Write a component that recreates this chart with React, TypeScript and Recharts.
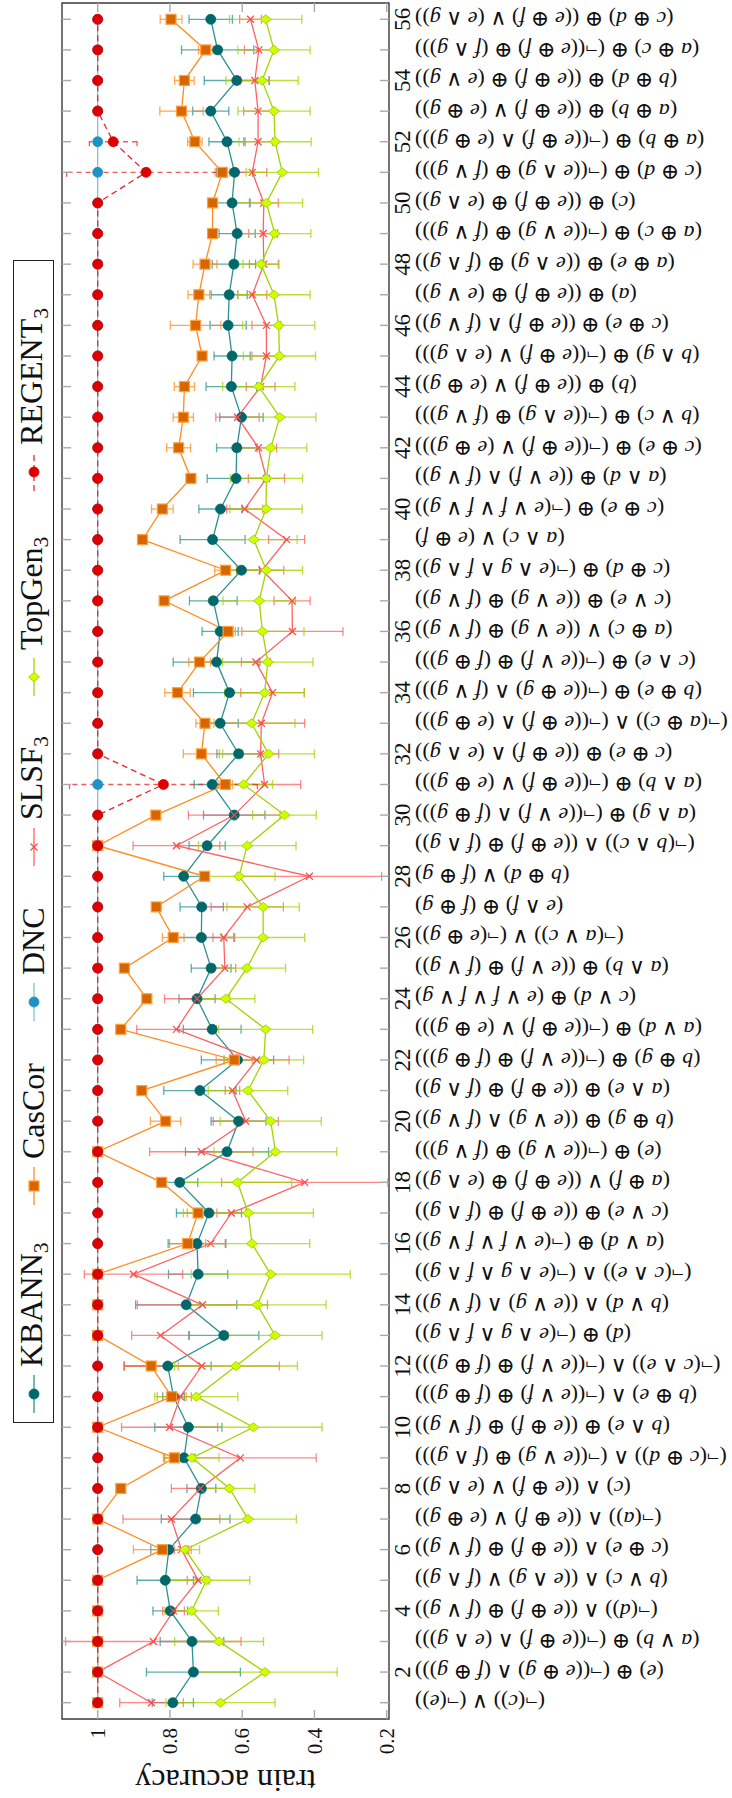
import React from 'react';
import { ComposedChart, Line, XAxis, YAxis, ErrorBar, Legend, ReferenceArea, Label } from 'recharts';

const categories = [1,2,3,4,5,6,7,8,9,10,11,12,13,14,15,16,17,18,19,20,21,22,23,24,25,26,27,28,29,30,31,32,33,34,35,36,37,38,39,40,41,42,43,44,45,46,47,48,49,50,51,52,53,54,55,56];

const formulaLabels = [
  '(¬(c)) ∨ (¬(e))',
  '(e) ⊕ (¬((e ⊕ g) ∧ (f ⊕ g)))',
  '(a ∨ b) ⊕ (¬((e ⊕ f) ∧ (e ∧ g)))',
  '(¬(d)) ∧ ((e ⊕ f) ⊕ (f ∨ g))',
  '(b ∨ c) ∧ ((e ∧ g) ∨ (f ∧ g))',
  '(c ⊕ e) ∧ ((e ⊕ f) ⊕ (f ∨ g))',
  '(¬(a)) ∧ ((e ⊕ f) ∨ (e ⊕ g))',
  '(c) ∧ ((e ⊕ f) ∨ (e ∧ g))',
  '(¬(c ⊕ d)) ∧ (¬((e ∨ g) ⊕ (f ∧ g)))',
  '(b ∧ e) ⊕ ((e ⊕ f) ⊕ (f ∨ g))',
  '(b ⊕ e) ∧ (¬((e ∨ f) ⊕ (f ⊕ g)))',
  '(¬(c ∧ e)) ∧ (¬((e ∨ f) ⊕ (f ⊕ g)))',
  '(d) ⊕ (¬(e ∧ g ∧ f ∧ g))',
  '(b ∨ d) ∧ ((e ∨ g) ∧ (f ∨ g))',
  '(¬(c ∧ e)) ∧ (¬(e ∧ g ∧ f ∧ g))',
  '(a ∨ d) ⊕ (¬(e ∨ f ∨ f ∨ g))',
  '(c ∨ e) ⊕ ((e ⊕ f) ⊕ (f ∧ g))',
  '(a ⊕ f) ∨ ((e ⊕ f) ⊕ (e ∧ g))',
  '(e) ⊕ (¬((e ∨ g) ⊕ (f ∨ g)))',
  '(b ⊕ g) ⊕ ((e ∨ g) ∧ (f ∨ g))',
  '(a ∧ e) ⊕ ((e ⊕ f) ⊕ (f ∧ g))',
  '(b ⊕ g) ⊕ (¬((e ∨ f) ⊕ (f ⊕ g)))',
  '(a ∨ d) ⊕ (¬((e ⊕ f) ∨ (e ⊕ g)))',
  '(c ∨ d) ⊕ (e ∨ f ∨ f ∨ g)',
  '(a ∧ b) ⊕ ((e ∨ f) ⊕ (f ∨ g))',
  '(¬(a ∨ c)) ∨ (¬(e ⊕ g))',
  '(e ∧ f) ⊕ (f ⊕ g)',
  '(b ⊕ d) ∨ (f ⊕ g)',
  '(¬(b ∧ c)) ∧ ((e ⊕ f) ⊕ (f ∧ g))',
  '(a ∧ g) ⊕ (¬((e ∨ f) ∧ (f ⊕ g)))',
  '(a ∧ b) ⊕ (¬((e ⊕ f) ∨ (e ⊕ g)))',
  '(c ⊕ e) ⊕ ((e ⊕ f) ∧ (e ∧ g))',
  '(¬(a ⊕ c)) ∧ (¬((e ⊕ f) ∧ (e ⊕ g)))',
  '(b ⊕ e) ⊕ (¬((e ⊕ g) ∧ (f ∨ g)))',
  '(c ∧ e) ⊕ (¬((e ∨ f) ⊕ (f ⊕ g)))',
  '(a ⊕ c) ∨ ((e ∨ g) ⊕ (f ∨ g))',
  '(c ∨ e) ⊕ ((e ∨ g) ⊕ (f ∨ g))',
  '(c ⊕ d) ⊕ (¬(e ∧ g ∧ f ∧ g))',
  '(a ∧ c) ∨ (e ⊕ f)',
  '(c ⊕ e) ⊕ (¬(e ∨ f ∨ f ∨ g))',
  '(a ∧ d) ⊕ ((e ∨ f) ∧ (f ∨ g))',
  '(c ⊕ e) ⊕ (¬((e ⊕ f) ∨ (e ⊕ g)))',
  '(b ∨ c) ⊕ (¬((e ∧ g) ⊕ (f ∨ g)))',
  '(b) ⊕ ((e ⊕ f) ∨ (e ⊕ g))',
  '(b ∧ g) ⊕ (¬((e ⊕ f) ∨ (e ∧ g)))',
  '(c ⊕ e) ⊕ ((e ⊕ f) ∧ (f ∨ g))',
  '(a) ⊕ ((e ⊕ f) ⊕ (e ∨ g))',
  '(a ⊕ e) ⊕ ((e ∧ g) ⊕ (f ∧ g))',
  '(a ⊕ c) ⊕ (¬((e ∨ g) ⊕ (f ∨ g)))',
  '(c) ⊕ ((e ⊕ f) ⊕ (e ∧ g))',
  '(c ⊕ d) ⊕ (¬((e ∧ g) ⊕ (f ∨ g)))',
  '(a ⊕ b) ⊕ (¬((e ⊕ f) ∧ (e ⊕ g)))',
  '(a ⊕ b) ⊕ ((e ⊕ f) ∨ (e ⊕ g))',
  '(b ⊕ d) ⊕ ((e ⊕ f) ⊕ (e ∨ g))',
  '(a ⊕ c) ⊕ (¬((e ⊕ f) ⊕ (f ∧ g)))',
  '(c ⊕ d) ⊕ ((e ⊕ f) ∨ (e ∧ g))',
];

const accuracyTicks = [0.2, 0.4, 0.6, 0.8, 1];

const kbann = [0.792,0.735,0.739,0.799,0.813,0.803,0.729,0.713,0.761,0.749,0.79,0.806,0.651,0.755,0.722,0.725,0.692,0.773,0.642,0.61,0.717,0.613,0.683,0.725,0.686,0.713,0.712,0.762,0.697,0.622,0.683,0.61,0.661,0.635,0.671,0.661,0.68,0.602,0.682,0.66,0.617,0.615,0.602,0.63,0.628,0.639,0.636,0.623,0.614,0.628,0.621,0.642,0.687,0.615,0.668,0.687];
const kbannErr = [0.057,0.13,0.088,0.048,0.078,0.05,0.095,0.04,0.03,0.093,0.03,0.12,0.097,0.14,0.082,0.08,0.09,0.05,0.115,0.076,0.1,0.1,0.08,0.05,0.055,0.09,0.06,0.055,0.05,0.085,0.05,0.06,0.05,0.1,0.12,0.05,0.066,0.05,0.09,0.06,0.08,0.056,0.06,0.07,0.05,0.05,0.05,0.06,0.05,0.05,0.05,0.05,0.05,0.09,0.1,0.06];

const cascor = [1,1,1,1,1,0.821,1,0.936,0.788,1,0.795,0.852,1,1,1,0.751,0.722,0.823,1,0.812,0.878,0.622,0.936,0.864,0.926,0.791,0.838,0.704,1,0.839,0.647,0.713,0.703,0.779,0.718,0.639,0.816,0.646,0.876,0.821,0.742,0.776,0.763,0.76,0.711,0.729,0.72,0.703,0.682,0.682,0.655,0.731,0.768,0.76,0.701,0.797];
const cascorErr = [0,0,0,0,0,0.08,0,0,0.03,0,0.04,0.075,0,0,0,0.05,0.03,0.01,0,0.042,0,0.05,0,0,0,0.03,0,0.01,0,0,0.02,0.05,0.025,0.035,0.03,0.02,0,0.03,0,0.03,0,0.033,0.028,0.028,0,0.07,0.03,0.033,0,0,0.02,0.02,0.06,0.027,0.02,0.03];

const dnc = [1,1,1,1,1,1,1,1,1,1,1,1,1,1,1,1,1,1,1,1,1,1,1,1,1,1,1,1,1,1,1,1,1,1,1,1,1,1,1,1,1,1,1,1,1,1,1,1,1,1,1,1,1,1,1,1];

const slsf = [0.851,1,0.846,0.79,0.722,0.768,0.796,0.716,0.605,0.801,0.771,0.712,0.826,0.71,0.901,0.687,0.63,0.427,0.713,0.59,0.627,0.56,0.782,0.725,0.648,0.651,0.586,0.414,0.782,0.622,0.538,0.549,0.547,0.516,0.562,0.461,0.462,0.545,0.477,0.593,0.533,0.555,0.613,0.549,0.533,0.533,0.572,0.54,0.542,0.54,0.572,0.556,0.556,0.565,0.554,0.577];
const slsfErr = [0.088,0,0.243,0.03,0.03,0.02,0.134,0.08,0.21,0.133,0.03,0.215,0.08,0.18,0.136,0.04,0.04,0.23,0.143,0.09,0.02,0.09,0.11,0.09,0.03,0.03,0.1,0.2,0.12,0.127,0.1,0.05,0.12,0.088,0.04,0.14,0.05,0.06,0.05,0.05,0.05,0.05,0.06,0.04,0.04,0.04,0.04,0.04,0.04,0.04,0.04,0.04,0.04,0.04,0.04,0.03];

const topgen = [0.66,0.537,0.664,0.74,0.699,0.758,0.584,0.635,0.739,0.569,0.727,0.617,0.509,0.558,0.521,0.573,0.583,0.613,0.508,0.521,0.584,0.54,0.535,0.645,0.587,0.542,0.542,0.609,0.586,0.483,0.596,0.527,0.574,0.538,0.529,0.544,0.553,0.533,0.568,0.534,0.533,0.521,0.496,0.554,0.497,0.499,0.512,0.548,0.51,0.533,0.489,0.509,0.512,0.545,0.512,0.535];
const topgenErr = [0.151,0.2,0.123,0.074,0.12,0.04,0.134,0.07,0.075,0.19,0.115,0.17,0.13,0.19,0.22,0.16,0.18,0.15,0.17,0.14,0.11,0.11,0.13,0.08,0.107,0.115,0.1,0.1,0.135,0.088,0.08,0.127,0.12,0.11,0.125,0.115,0.1,0.1,0.12,0.1,0.1,0.1,0.1,0.1,0.1,0.1,0.1,0.05,0.1,0.1,0.1,0.1,0.1,0.1,0.1,0.1];

const regent = [1,1,1,1,1,1,1,1,1,1,1,1,1,1,1,1,1,1,1,1,1,1,1,1,1,1,1,1,1,1,0.818,1,1,1,1,1,1,1,1,1,1,1,1,1,1,1,1,1,1,1,0.866,0.957,1,1,1,1];
const regentErr = [0,0,0,0,0,0,0,0,0,0,0,0,0,0,0,0,0,0,0,0,0,0,0,0,0,0,0,0,0,0,0.26,0,0,0,0,0,0,0,0,0,0,0,0,0,0,0,0,0,0,0,0.22,0.066,0,0,0,0];

const rows = categories.map((c, i) => ({
  idx: c,
  kbann: kbann[i], kbannErr: kbannErr[i] || null,
  cascor: cascor[i], cascorErr: cascorErr[i] || null,
  dnc: dnc[i],
  slsf: slsf[i], slsfErr: slsfErr[i] || null,
  topgen: topgen[i], topgenErr: topgenErr[i] || null,
  regent: regent[i], regentErr: regentErr[i] || null,
}));

// ---- layout / style ----
const W = 1798;
const H = 732;
const PLOT_W = 1716;
const PLOT_H = 327;
const SERIF = "'Liberation Serif', 'DejaVu Serif', serif";

type Style = { key: string; name: string; sub?: string; line: string; fill: string; edge: string; shape: string; dash?: string; legendX: number };
const styles: Style[] = [
  { key: 'kbann', name: 'KBANN', sub: '3', line: '#2a9292', fill: '#00676a', edge: '#00676a', shape: 'circle', legendX: 403 },
  { key: 'cascor', name: 'CasCor', line: '#ff8c1f', fill: '#d86600', edge: '#ffa040', shape: 'square', legendX: 611 },
  { key: 'dnc', name: 'DNC', line: '#86bfd6', fill: '#1f92c4', edge: '#1f92c4', shape: 'circle', legendX: 795 },
  { key: 'slsf', name: 'SLSF', sub: '3', line: '#ff6262', fill: '#ff4a4a', edge: '#ff4a4a', shape: 'x', legendX: 950 },
  { key: 'topgen', name: 'TopGen', sub: '3', line: '#a2d400', fill: '#d0ff00', edge: '#a6d800', shape: 'diamond', legendX: 1120 },
  { key: 'regent', name: 'REGENT', sub: '3', line: '#e8262a', fill: '#dd0000', edge: '#dd0000', shape: 'circle', dash: '6 4', legendX: 1325 },
];

function Marker({ s, cx, cy }: { s: Style; cx: number; cy: number }) {
  if (s.shape === 'circle') return <circle cx={cx} cy={cy} r={5} fill={s.fill} stroke={s.edge} strokeWidth={0.8} />;
  if (s.shape === 'square') return <rect x={cx - 5} y={cy - 5} width={10} height={10} fill={s.fill} stroke={s.edge} strokeWidth={1.2} />;
  if (s.shape === 'diamond') return <polygon points={`${cx},${cy - 5.5} ${cx + 4.5},${cy} ${cx},${cy + 5.5} ${cx - 4.5},${cy}`} fill={s.fill} stroke={s.edge} strokeWidth={1} />;
  return (
    <g stroke={s.fill} strokeWidth={1.3}>
      <line x1={cx - 3.5} y1={cy - 3.5} x2={cx + 3.5} y2={cy + 3.5} />
      <line x1={cx - 3.5} y1={cy + 3.5} x2={cx + 3.5} y2={cy - 3.5} />
    </g>
  );
}

const makeDot = (s: Style) => (props: any) => {
  const { cx, cy, index } = props;
  if (cx == null || cy == null) return <g key={`e-${s.key}-${index}`} />;
  return (
    <g key={`d-${s.key}-${index}`}>
      <Marker s={s} cx={cx} cy={cy} />
    </g>
  );
};

function renderFormula(str: string) {
  return str.split('').map((ch, i) =>
    /[a-g]/.test(ch) ? (
      <tspan key={i} fontStyle="italic">{ch}</tspan>
    ) : (
      <tspan key={i}>{ch}</tspan>
    )
  );
}

const CategoryTick = (props: any) => {
  const { x, y, payload } = props;
  const v = payload.value as number;
  const i = categories.indexOf(v);
  const label = i >= 0 ? formulaLabels[i] : '';
  return (
    <g>
      <line x1={x} x2={x} y1={y} y2={y - 9} stroke="#a9a9a9" strokeWidth={1.4} />
      <line x1={x} x2={x} y1={y - PLOT_H} y2={y - PLOT_H + 9} stroke="#a9a9a9" strokeWidth={1.4} />
      {v % 2 === 0 && (
        <text x={x} y={y + 21} textAnchor="middle" fontFamily={SERIF} fontSize={23} fill="#111">
          {v}
        </text>
      )}
      <text
        transform={`translate(${x},${y + 26}) rotate(-90)`}
        textAnchor="end"
        dy="0.33em"
        fontFamily={SERIF}
        fontSize={22}
        fill="#111"
      >
        {renderFormula(label)}
      </text>
    </g>
  );
};

const AccTick = (props: any) => {
  const { x, y, payload } = props;
  const v = payload.value as number;
  return (
    <g>
      <line x1={x} x2={x + 9} y1={y} y2={y} stroke="#a9a9a9" strokeWidth={1.4} />
      <line x1={x + PLOT_W} x2={x + PLOT_W - 9} y1={y} y2={y} stroke="#a9a9a9" strokeWidth={1.4} />
      <text x={x - 9} y={y} dy="0.34em" textAnchor="end" fontFamily={SERIF} fontSize={21} fill="#111">
        {v === 1 ? '1' : v.toFixed(1)}
      </text>
    </g>
  );
};

const LegendBox = () => (
  <div
    style={{
      position: 'relative',
      width: 1163,
      height: 41,
      border: '1.4px solid #222',
      boxSizing: 'border-box',
      background: '#fff',
      fontFamily: SERIF,
      fontSize: 32,
      color: '#111',
    }}
  >
    {styles.map((s) => (
      <div
        key={s.key}
        style={{ position: 'absolute', left: s.legendX - 375 - 19, top: 0, height: 39, display: 'flex', alignItems: 'center', whiteSpace: 'nowrap' }}
      >
        <svg width={38} height={20} style={{ display: 'block' }}>
          <line x1={0} x2={38} y1={10} y2={10} stroke={s.line} strokeWidth={1.3} strokeDasharray={s.dash} />
          <Marker s={s} cx={19} cy={10} />
        </svg>
        <span style={{ marginLeft: 8, lineHeight: '39px' }}>
          {s.name}
          {s.sub && <span style={{ fontSize: '0.68em', position: 'relative', top: '0.28em' }}>{s.sub}</span>}
        </span>
      </div>
    ))}
  </div>
);

const YLabel = (props: any) => {
  const vb = props.viewBox || { x: 0, y: 62, width: 79, height: PLOT_H };
  const cx = vb.x + 18;
  const cy = vb.y + vb.height / 2;
  return (
    <text
      transform={`translate(${cx},${cy}) rotate(-90)`}
      textAnchor="middle"
      dy="0.3em"
      fontFamily={SERIF}
      fontSize={32}
      fill="#111"
    >
      train accuracy
    </text>
  );
};

export default function App() {
  return (
    <div style={{ position: 'absolute', left: 0, top: 0, width: 732, height: 1798, overflow: 'hidden', background: '#fff' }}>
      <div
        style={{
          position: 'absolute',
          left: 0,
          top: 0,
          width: W,
          height: H,
          transformOrigin: '0 0',
          transform: `translate(0px, ${W}px) rotate(-90deg)`,
        }}
      >
        <ComposedChart width={W} height={H} data={rows} margin={{ top: 62, right: 3, bottom: 0, left: 0 }}>
          <XAxis
            xAxisId="x"
            dataKey="idx"
            type="number"
            domain={[0.4674, 56.5326]}
            ticks={categories}
            interval={0}
            allowDataOverflow
            height={343}
            axisLine={false}
            tickLine={false}
            tickSize={0}
            tickMargin={0}
            tick={<CategoryTick />}
          />
          <YAxis
            yAxisId="y"
            type="number"
            domain={[0.1936, 1.0988]}
            ticks={accuracyTicks}
            interval={0}
            allowDataOverflow
            width={79}
            axisLine={false}
            tickLine={false}
            tickSize={0}
            tickMargin={0}
            tick={<AccTick />}
          >
            <Label content={<YLabel />} />
          </YAxis>
          <ReferenceArea
            xAxisId="x"
            yAxisId="y"
            x1={0.4674}
            x2={56.5326}
            y1={0.1936}
            y2={1.0988}
            fill="none"
            fillOpacity={0}
            stroke="#3a3a3a"
            strokeWidth={1.4}
            ifOverflow="visible"
          />
          {styles.map((s) => (
            <Line
              key={s.key}
              xAxisId="x"
              yAxisId="y"
              dataKey={s.key}
              type="linear"
              stroke={s.line}
              strokeWidth={1.3}
              strokeDasharray={s.dash}
              dot={makeDot(s)}
              activeDot={false}
              isAnimationActive={false}
            >
              {s.key !== 'dnc' && (
                <ErrorBar
                  dataKey={`${s.key}Err`}
                  direction="y"
                  width={4.5}
                  stroke={s.line}
                  strokeWidth={1.3}
                  strokeOpacity={0.75}
                  strokeDasharray={s.dash ? '5 4' : undefined}
                  isAnimationActive={false}
                />
              )}
            </Line>
          ))}
          <Legend
            layout="horizontal"
            verticalAlign="middle"
            align="center"
            content={() => <LegendBox />}
            wrapperStyle={{ left: 375, top: 13, width: 1163, height: 41 }}
          />
        </ComposedChart>
      </div>
    </div>
  );
}
